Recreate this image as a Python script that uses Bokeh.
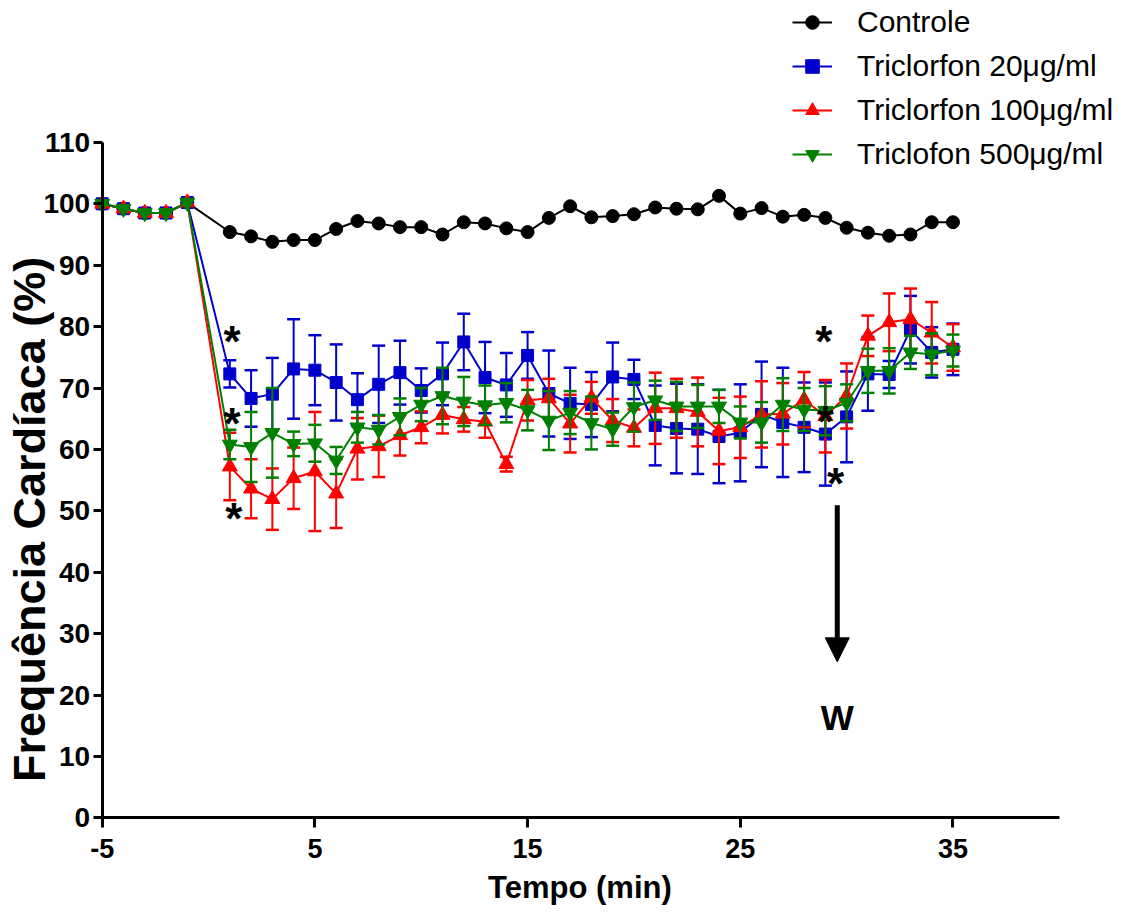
import math
from bokeh.plotting import figure
from bokeh.models import (Range1d, FixedTicker, Legend, LegendItem, Label, Arrow,
                          NormalHead, ColumnDataSource)
from bokeh.embed import file_html
from bokeh.resources import INLINE

# ---------------- data ----------------
time_min = [-5, -4, -3, -2, -1, 1, 2, 3, 4, 5, 6, 7, 8, 9, 10, 11, 12, 13, 14, 15,
            16, 17, 18, 19, 20, 21, 22, 23, 24, 25, 26, 27, 28, 29, 30, 31, 32, 33, 34, 35]

baseline = [100.0, 99.2, 98.5, 98.5, 100.2]

controle_mean = baseline + [95.4, 94.7, 93.8, 94.1, 94.1, 95.9, 97.2, 96.8, 96.2, 96.2,
                            95.0, 97.0, 96.8, 96.0, 95.4, 97.7, 99.6, 97.8, 98.0, 98.3,
                            99.4, 99.2, 99.1, 101.3, 98.4, 99.3, 97.9, 98.2, 97.7, 96.1,
                            95.3, 94.8, 95.0, 97.0, 97.0]

t20_mean = baseline + [72.3, 68.3, 69.0, 73.1, 72.9, 70.9, 68.1, 70.6, 72.5, 69.6,
                       72.3, 77.5, 71.7, 70.5, 75.3, 69.1, 67.5, 67.3, 71.8, 71.4,
                       63.9, 63.4, 63.3, 62.1, 62.7, 65.7, 64.4, 63.6, 62.5, 65.3,
                       72.3, 72.2, 79.5, 75.8, 76.3]
t20_sem = [0, 0, 0, 0, 0] + [2.2, 4.6, 5.9, 8.1, 5.7, 6.2, 4.3, 6.3, 5.2, 3.6,
                             5.1, 4.6, 5.8, 5.2, 3.8, 7.0, 5.8, 5.3, 5.6, 3.2,
                             6.5, 7.3, 7.3, 7.6, 7.9, 8.6, 8.9, 7.3, 8.4, 7.4,
                             6.0, 2.2, 5.5, 4.1, 4.2]

t100_mean = baseline + [57.2, 53.6, 51.9, 55.3, 56.4, 52.8, 60.1, 60.5, 62.3, 63.6,
                        65.6, 64.9, 64.5, 57.6, 68.0, 68.3, 64.2, 68.4, 64.7, 63.5,
                        66.7, 66.7, 66.1, 63.0, 63.6, 65.7, 65.8, 68.1, 65.4, 68.7,
                        78.5, 80.7, 81.2, 79.0, 76.6]
t100_sem = [0, 0, 0, 0, 0] + [5.5, 4.8, 5.0, 5.0, 9.7, 5.6, 5.0, 5.0, 3.3, 2.6,
                              3.0, 2.0, 2.6, 1.2, 3.3, 3.2, 4.7, 2.6, 3.5, 3.0,
                              5.8, 4.8, 5.6, 5.4, 5.0, 5.4, 5.0, 4.5, 5.9, 5.3,
                              3.3, 4.7, 5.0, 5.0, 3.8]

t500_mean = baseline + [60.8, 60.4, 62.7, 60.9, 61.0, 58.2, 63.6, 63.2, 65.3, 67.3,
                        68.7, 67.8, 67.2, 67.6, 66.4, 64.7, 66.0, 64.3, 63.3, 66.9,
                        68.0, 67.0, 67.0, 67.0, 64.4, 64.4, 67.3, 66.5, 66.3, 67.6,
                        72.8, 72.8, 75.8, 75.5, 76.1]
t500_sem = [0, 0, 0, 0, 0] + [2.4, 5.7, 7.3, 2.0, 3.0, 2.2, 2.5, 2.4, 3.0, 2.7,
                              4.6, 4.0, 3.2, 3.2, 3.3, 4.8, 3.5, 4.3, 2.7, 4.0,
                              3.2, 4.0, 3.5, 2.7, 2.6, 3.3, 4.3, 3.5, 4.0, 3.0,
                              3.6, 3.7, 2.7, 3.4, 2.6]

series_labels = ["Controle", "Triclorfon 20μg/ml", "Triclorfon 100μg/ml", "Triclofon 500μg/ml"]
x_ticks = [-5, 5, 15, 25, 35]
y_ticks = [0, 10, 20, 30, 40, 50, 60, 70, 80, 90, 100, 110]

# annotations: significance asterisks (x, y) and washout arrow
star_x = [1.11, 1.11, 1.19, 28.93, 29.0, 29.48]
star_y = [78.8, 65.5, 50.0, 78.8, 65.8, 55.7]
washout_x = 29.56
washout_top, washout_tip, washout_text_y = 50.9, 25.4, 16.3

# ---------------- figure ----------------
FONT = "Liberation Sans"
W, H = 1130, 908
p = figure(width=W, height=H, output_backend="svg", toolbar_location=None,
           x_range=Range1d(-9.781, 43.346), y_range=Range1d(-14.77, 133.11),
           min_border=0, min_border_left=0, min_border_right=0,
           min_border_top=0, min_border_bottom=0)
p.grid.visible = False
p.outline_line_color = None
p.background_fill_color = "white"

for ax in (p.xaxis[0], p.yaxis[0]):
    ax.axis_line_width = 3
    ax.axis_line_color = "black"
    ax.major_tick_line_width = 3
    ax.major_tick_line_color = "black"
    ax.major_tick_in = 0
    ax.minor_tick_line_color = None
    ax.major_label_text_font = FONT
    ax.major_label_text_font_style = "bold"
    ax.major_label_text_color = "black"

p.yaxis.fixed_location = -5
p.yaxis.ticker = FixedTicker(ticks=y_ticks)
p.yaxis.bounds = (0, 110)
p.yaxis.major_tick_out = 9
p.yaxis.major_label_text_font_size = "28px"
p.yaxis.major_label_standoff = 3

p.xaxis.fixed_location = 0
p.xaxis.ticker = FixedTicker(ticks=x_ticks)
p.xaxis.bounds = (-5, 40)
p.xaxis.major_tick_out = 10
p.xaxis.major_label_overrides = {-5: "-5"}
p.xaxis.major_label_text_font_size = "27px"
p.xaxis.major_label_standoff = 11

p.add_layout(Label(x=-8.42, y=48.6, text="Frequência Cardíaca (%)", angle=math.pi / 2,
                   text_align="center", text_baseline="middle", text_font=FONT,
                   text_font_style="bold", text_font_size="45px", text_color="black"))
p.add_layout(Label(x=17.46, y=-11.35, text="Tempo (min)", text_align="center",
                   text_baseline="middle", text_font=FONT, text_font_style="bold",
                   text_font_size="31px", text_color="black"))

# ---------------- series ----------------
specs = [
    (controle_mean, None, "black", "circle", 13),
    (t20_mean, t20_sem, "#0000CC", "square", 12),
    (t100_mean, t100_sem, "#FF0000", "triangle", 15),
    (t500_mean, t500_sem, "#008000", "inverted_triangle", 15),
]

items = []
for (mean, sem, color, marker, size), label in zip(specs, series_labels):
    if sem is not None:
        xs = [x for x, s in zip(time_min, sem) if s > 0]
        lo = [m - s for m, s in zip(mean, sem) if s > 0]
        hi = [m + s for m, s in zip(mean, sem) if s > 0]
        esrc = ColumnDataSource(dict(x=xs, lo=lo, hi=hi))
        p.segment(x0="x", y0="lo", x1="x", y1="hi", source=esrc, line_color=color, line_width=2)
        p.scatter(x="x", y="lo", source=esrc, marker="dash", size=13, line_color=color, line_width=2.5)
        p.scatter(x="x", y="hi", source=esrc, marker="dash", size=13, line_color=color, line_width=2.5)
    src = ColumnDataSource(dict(x=time_min, y=mean))
    lr = p.line(x="x", y="y", source=src, line_color=color, line_width=2)
    sr = p.scatter(x="x", y="y", source=src, marker=marker, size=size,
                   fill_color=color, line_color=color)
    items.append(LegendItem(label=label, renderers=[lr, sr]))

legend = Legend(items=items, location=(792, 737), orientation="vertical",
                label_text_font=FONT, label_text_font_size="30px", label_text_color="black",
                glyph_width=40, glyph_height=34, label_height=34, spacing=10,
                label_standoff=25, padding=0, margin=0,
                border_line_color=None, background_fill_alpha=0)
p.add_layout(legend)

# ---------------- annotations ----------------
for sx, sy in zip(star_x, star_y):
    p.add_layout(Label(x=sx, y=sy, text="*", text_align="center", text_baseline="middle",
                       y_offset=-8, text_font=FONT, text_font_style="bold",
                       text_font_size="44px", text_color="black"))

p.add_layout(Arrow(x_start=washout_x, y_start=washout_top, x_end=washout_x, y_end=washout_tip,
                   line_width=5, line_color="black",
                   end=NormalHead(size=24, fill_color="black", line_color="black", line_width=1)))
p.add_layout(Label(x=washout_x, y=washout_text_y, text="W", text_align="center",
                   text_baseline="middle", text_font=FONT, text_font_style="bold",
                   text_font_size="35px", text_color="black"))

open("out.html", "w").write(file_html(p, INLINE))
